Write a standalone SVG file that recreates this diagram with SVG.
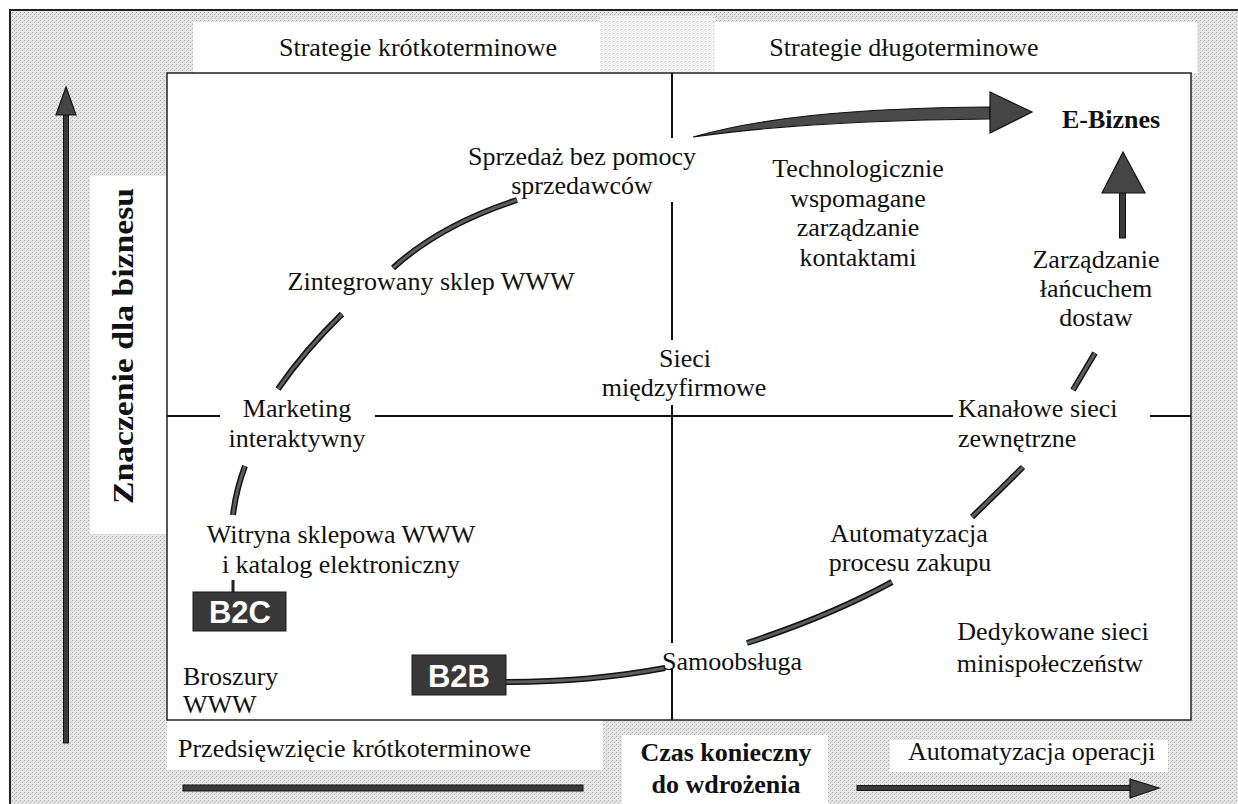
<svg xmlns="http://www.w3.org/2000/svg" width="1238" height="804" viewBox="0 0 1238 804">
<defs>
<pattern id="tex" width="4" height="4" patternUnits="userSpaceOnUse">
<rect width="4" height="4" fill="#e6e6e6"/>
<rect x="0" y="0" width="1" height="1" fill="#a8a8a8"/>
<rect x="2" y="2" width="1" height="1" fill="#b2b2b2"/>
<rect x="3" y="1" width="1" height="1" fill="#cfcfcf"/>
</pattern>
<pattern id="texl" width="4" height="4" patternUnits="userSpaceOnUse">
<rect width="4" height="4" fill="#f4f4f4"/>
<rect x="1" y="1" width="1" height="1" fill="#c0c0c0"/>
</pattern>
</defs>
<style>
text{font-family:"Liberation Serif","Times New Roman",serif;font-size:26px;fill:#111;}
.c{text-anchor:middle;}
.b{font-weight:bold;}
.tag{font-family:"Liberation Sans",Arial,sans-serif;font-weight:bold;font-size:31px;fill:#fff;text-anchor:middle;}
.tagbox{fill:#383838;stroke:#1a1a1a;stroke-width:1;}
.quad{stroke:#111;stroke-width:2;fill:none;}
.seg{stroke:#111;stroke-width:6;fill:none;stroke-linecap:butt;}
.segi{stroke:#5e5e5e;stroke-width:3;fill:none;stroke-linecap:butt;}
.axis{fill:#3a3a3a;stroke:#111;stroke-width:1;}
.head{fill:#454545;stroke:#111;stroke-width:1.2;}
</style>
<rect width="1238" height="804" fill="#fff"/>
<rect x="10" y="10" width="1240" height="800" fill="url(#tex)" stroke="#222" stroke-width="2"/>
<!-- light bands -->
<rect x="193" y="22" width="1004" height="51" fill="#fff"/>
<rect x="600" y="16" width="115" height="56" fill="url(#texl)"/>
<rect x="90" y="176" width="77" height="358" fill="#fff"/>
<rect x="167" y="720" width="436" height="50" fill="#fff"/>
<rect x="622" y="735" width="206" height="69" fill="#fff"/>
<rect x="890" y="740" width="278" height="32" fill="#fff"/>
<!-- main box -->
<rect id="main-box" x="167" y="73" width="1024" height="647" fill="#fff" stroke="#222" stroke-width="1.5"/>

<g id="axes">
<rect class="axis" x="63.5" y="113" width="5" height="630"/>
<polygon class="head" points="66,87 76,115 56,115"/>
<rect class="axis" x="183" y="785" width="400" height="6"/>
<rect class="axis" x="857" y="785.5" width="275" height="5"/>
<polygon class="head" points="1130,779 1159,788 1130,798"/>
</g>

<g id="quadrant-lines">
<path class="quad" d="M672,73V138 M672,202V340 M672,405V643 M672,668V720"/>
<path class="quad" d="M167,416H220 M375,416H953 M1150,416H1191"/>
</g>

<g id="connectors">
<path d="M233,580V592" stroke="#222" stroke-width="3"/>
<path class="seg" d="M233,515 Q236,490 245,466"/><path class="segi" d="M233,515 Q236,490 245,466"/>
<path class="seg" d="M278,389 Q305,350 342,314"/><path class="segi" d="M278,389 Q305,350 342,314"/>
<path class="seg" d="M393,268 Q440,225 517,200"/><path class="segi" d="M393,268 Q440,225 517,200"/>
<path d="M693,137 C760,118 850,108 990,107 L990,119 C860,120 770,126 693,137 Z" fill="#4a4a4a" stroke="#111" stroke-width="1.2"/>
<polygon class="head" points="990,92 1032,112 990,133"/>
<rect class="axis" x="1119.5" y="192" width="6" height="46"/>
<polygon class="head" points="1102,193 1123,152 1145,193"/>
<path class="seg" d="M1073,390 L1095,353"/><path class="segi" d="M1073,390 L1095,353"/>
<path class="seg" d="M972,517 Q1000,490 1023,467"/><path class="segi" d="M972,517 Q1000,490 1023,467"/>
<path class="seg" d="M747,643 Q830,616 892,582"/><path class="segi" d="M747,643 Q830,616 892,582"/>
<path class="seg" d="M506,682 Q590,682 665,668"/><path class="segi" d="M506,682 Q590,682 665,668"/>
</g>

<g id="header-labels">
<text class="c" x="418" y="56">Strategie krótkoterminowe</text>
<text class="c" x="904" y="56">Strategie długoterminowe</text>
</g>
<g id="y-label">
<text class="b c" transform="translate(133,346) rotate(-90)" style="font-size:29px" textLength="316" lengthAdjust="spacingAndGlyphs">Znaczenie dla biznesu</text>
</g>
<g id="x-labels">
<text x="178" y="757">Przedsięwzięcie krótkoterminowe</text>
<text class="b c" x="726" y="761">Czas konieczny</text>
<text class="b c" x="726" y="793">do wdrożenia</text>
<text x="908" y="760">Automatyzacja operacji</text>
</g>

<g id="node-sprzedaz"><text class="c" x="582" y="165">Sprzedaż bez pomocy</text><text class="c" x="582" y="194">sprzedawców</text></g>
<g id="node-technologicznie"><text class="c" x="858" y="177">Technologicznie</text><text class="c" x="858" y="206.5">wspomagane</text><text class="c" x="858" y="236">zarządzanie</text><text class="c" x="858" y="265.5">kontaktami</text></g>
<g id="node-ebiznes"><text class="b c" x="1111" y="128">E-Biznes</text></g>
<g id="node-zarzadzanie"><text class="c" x="1096" y="268">Zarządzanie</text><text class="c" x="1096" y="297">łańcuchem</text><text class="c" x="1096" y="326">dostaw</text></g>
<g id="node-zintegrowany"><text class="c" x="431" y="290">Zintegrowany sklep WWW</text></g>
<g id="node-sieci"><text class="c" x="685" y="367">Sieci</text><text class="c" x="684" y="396">międzyfirmowe</text></g>
<g id="node-marketing"><text class="c" x="297" y="417">Marketing</text><text class="c" x="297" y="447">interaktywny</text></g>
<g id="node-kanalowe"><text x="958" y="417">Kanałowe sieci</text><text x="958" y="447">zewnętrzne</text></g>
<g id="node-witryna"><text class="c" x="341" y="543">Witryna sklepowa WWW</text><text class="c" x="341" y="573">i katalog elektroniczny</text></g>
<g id="node-automatyzacja"><text class="c" x="909" y="542">Automatyzacja</text><text class="c" x="910" y="571">procesu zakupu</text></g>
<g id="node-samoobsluga"><text x="662" y="670">Samoobsługa</text></g>
<g id="node-dedykowane"><text class="c" x="1053" y="640">Dedykowane sieci</text><text class="c" x="1050" y="672">minispołeczeństw</text></g>
<g id="node-broszury"><text x="183" y="685">Broszury</text><text x="183" y="713">WWW</text></g>
<g id="node-b2c"><rect class="tagbox" x="193" y="592" width="93" height="39"/><text class="tag" x="240" y="623">B2C</text></g>
<g id="node-b2b"><rect class="tagbox" x="412" y="655" width="94" height="40"/><text class="tag" x="459" y="687">B2B</text></g>
</svg>
